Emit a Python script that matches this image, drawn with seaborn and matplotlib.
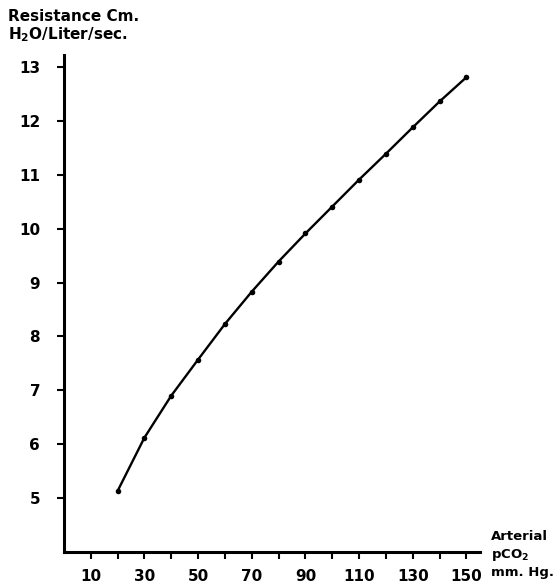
import matplotlib
matplotlib.use("Agg")
import matplotlib.pyplot as plt
import seaborn as sns
import pandas as pd

# arterial pCO2 (mm Hg) vs airway resistance (cm H2O/liter/sec)
pco2 = [20, 30, 40, 50, 60, 70, 80, 90, 100, 110, 120, 130, 140, 150]
resistance = [5.13, 6.12, 6.9, 7.57, 8.23, 8.83, 9.39, 9.91, 10.41, 10.91, 11.39, 11.88, 12.36, 12.81]
x_ticks = list(range(10, 151, 10))
x_labels = [str(v) if v % 20 == 10 else "" for v in x_ticks]
y_ticks = [5, 6, 7, 8, 9, 10, 11, 12, 13]

sns.set_style("ticks")
plt.rcParams['font.family'] = ['DejaVu Sans']

df = pd.DataFrame({"pco2": pco2, "resistance": resistance})

fig = plt.figure(figsize=(5.6, 5.86), dpi=100)
ax = fig.add_axes([0.114, 0.058, 0.743, 0.848])

sns.lineplot(data=df, x="pco2", y="resistance", ax=ax, color="black",
             linewidth=1.7, marker="o", markersize=4, markeredgewidth=0)

ax.set_xlim(0, 155)
ax.set_ylim(4.0, 13.22)
ax.set_xticks(x_ticks)
ax.set_xticklabels(x_labels, fontsize=11, fontweight="bold", color="black")
ax.set_yticks(y_ticks)
ax.set_yticklabels([str(v) for v in y_ticks], fontsize=11, fontweight="bold", color="black")
ax.tick_params(axis="x", direction="out", length=5, width=1.5, color="black", pad=7)
ax.tick_params(axis="y", direction="out", length=5, width=1.5, color="black", pad=12)
ax.set_xlabel("")
ax.set_ylabel("")

for s in ["top", "right"]:
    ax.spines[s].set_visible(False)
for s in ["left", "bottom"]:
    ax.spines[s].set_linewidth(2.2)
    ax.spines[s].set_color("black")

fig.text(0.014, 0.984, "Resistance Cm.\nH$_\\mathbf{2}$O/Liter/sec.", ha="left", va="top",
         fontsize=11, fontweight="bold", linespacing=1.1, color="black")
fig.text(0.876, 0.095, "Arterial\npCO$_\\mathbf{2}$\nmm. Hg.", ha="left", va="top",
         fontsize=9.5, fontweight="bold", linespacing=1.3, color="black")

fig.savefig("out.png", dpi=100, facecolor="white")
